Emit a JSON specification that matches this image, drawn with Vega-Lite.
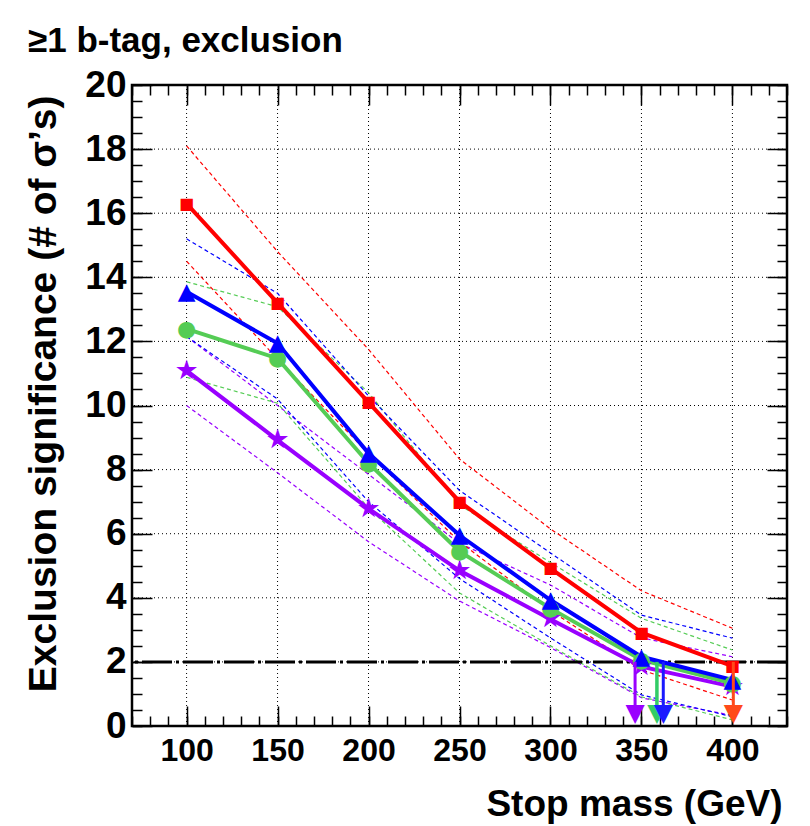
{
  "$schema": "https://vega.github.io/schema/vega-lite/v6.json",
  "width": 655,
  "height": 641,
  "autosize": {"type": "none"},
  "padding": {"left": 132, "top": 85, "right": 23, "bottom": 100},
  "background": "white",
  "config": {
    "view": {"stroke": "black", "strokeWidth": 2.5},
    "font": "Liberation Sans"
  },
  "title": {
    "text": "≥1 b-tag, exclusion",
    "anchor": "start",
    "frame": "group",
    "dx": -104,
    "dy": 45,
    "offset": 24,
    "baseline": "alphabetic",
    "font": "Liberation Sans",
    "fontSize": 35,
    "fontWeight": "bold",
    "color": "black"
  },
  "datasets": {
    "curves": [
      {"series": "purple", "kind": "central", "mass": 100, "sig": 11.09},
      {"series": "purple", "kind": "central", "mass": 150, "sig": 8.92},
      {"series": "purple", "kind": "central", "mass": 200, "sig": 6.78},
      {"series": "purple", "kind": "central", "mass": 250, "sig": 4.85},
      {"series": "purple", "kind": "central", "mass": 300, "sig": 3.33},
      {"series": "purple", "kind": "central", "mass": 350, "sig": 1.85},
      {"series": "purple", "kind": "central", "mass": 400, "sig": 1.23},
      {"series": "green", "kind": "central", "mass": 100, "sig": 12.39},
      {"series": "green", "kind": "central", "mass": 150, "sig": 11.47},
      {"series": "green", "kind": "central", "mass": 200, "sig": 8.2},
      {"series": "green", "kind": "central", "mass": 250, "sig": 5.45},
      {"series": "green", "kind": "central", "mass": 300, "sig": 3.67},
      {"series": "green", "kind": "central", "mass": 350, "sig": 2.06},
      {"series": "green", "kind": "central", "mass": 400, "sig": 1.33},
      {"series": "blue", "kind": "central", "mass": 100, "sig": 13.55},
      {"series": "blue", "kind": "central", "mass": 150, "sig": 11.94},
      {"series": "blue", "kind": "central", "mass": 200, "sig": 8.51},
      {"series": "blue", "kind": "central", "mass": 250, "sig": 5.95},
      {"series": "blue", "kind": "central", "mass": 300, "sig": 3.93},
      {"series": "blue", "kind": "central", "mass": 350, "sig": 2.16},
      {"series": "blue", "kind": "central", "mass": 400, "sig": 1.44},
      {"series": "red", "kind": "central", "mass": 100, "sig": 16.3},
      {"series": "red", "kind": "central", "mass": 150, "sig": 13.2},
      {"series": "red", "kind": "central", "mass": 200, "sig": 10.1},
      {"series": "red", "kind": "central", "mass": 250, "sig": 7.0},
      {"series": "red", "kind": "central", "mass": 300, "sig": 4.92},
      {"series": "red", "kind": "central", "mass": 350, "sig": 2.91},
      {"series": "red", "kind": "central", "mass": 400, "sig": 1.87},
      {"series": "red", "kind": "upper", "mass": 100, "sig": 18.1},
      {"series": "red", "kind": "upper", "mass": 150, "sig": 14.8},
      {"series": "red", "kind": "upper", "mass": 200, "sig": 11.75},
      {"series": "red", "kind": "upper", "mass": 250, "sig": 8.33},
      {"series": "red", "kind": "upper", "mass": 300, "sig": 6.15},
      {"series": "red", "kind": "upper", "mass": 350, "sig": 4.22},
      {"series": "red", "kind": "upper", "mass": 400, "sig": 3.05},
      {"series": "red", "kind": "lower", "mass": 100, "sig": 14.5},
      {"series": "red", "kind": "lower", "mass": 150, "sig": 11.45},
      {"series": "red", "kind": "lower", "mass": 200, "sig": 8.5},
      {"series": "red", "kind": "lower", "mass": 250, "sig": 5.75},
      {"series": "red", "kind": "lower", "mass": 300, "sig": 3.6},
      {"series": "red", "kind": "lower", "mass": 350, "sig": 1.75},
      {"series": "red", "kind": "lower", "mass": 400, "sig": 0.81},
      {"series": "blue", "kind": "upper", "mass": 100, "sig": 15.2},
      {"series": "blue", "kind": "upper", "mass": 150, "sig": 13.5},
      {"series": "blue", "kind": "upper", "mass": 200, "sig": 10.3},
      {"series": "blue", "kind": "upper", "mass": 250, "sig": 7.35},
      {"series": "blue", "kind": "upper", "mass": 300, "sig": 5.4},
      {"series": "blue", "kind": "upper", "mass": 350, "sig": 3.46},
      {"series": "blue", "kind": "upper", "mass": 400, "sig": 2.74},
      {"series": "blue", "kind": "lower", "mass": 100, "sig": 12.15},
      {"series": "blue", "kind": "lower", "mass": 150, "sig": 10.2},
      {"series": "blue", "kind": "lower", "mass": 200, "sig": 7.0},
      {"series": "blue", "kind": "lower", "mass": 250, "sig": 4.6},
      {"series": "blue", "kind": "lower", "mass": 300, "sig": 2.75},
      {"series": "blue", "kind": "lower", "mass": 350, "sig": 0.97},
      {"series": "blue", "kind": "lower", "mass": 400, "sig": 0.29},
      {"series": "green", "kind": "upper", "mass": 100, "sig": 13.86},
      {"series": "green", "kind": "upper", "mass": 150, "sig": 13.08},
      {"series": "green", "kind": "upper", "mass": 200, "sig": 10.4},
      {"series": "green", "kind": "upper", "mass": 250, "sig": 6.9},
      {"series": "green", "kind": "upper", "mass": 300, "sig": 5.1},
      {"series": "green", "kind": "upper", "mass": 350, "sig": 3.36},
      {"series": "green", "kind": "upper", "mass": 400, "sig": 2.37},
      {"series": "green", "kind": "lower", "mass": 100, "sig": 10.88},
      {"series": "green", "kind": "lower", "mass": 150, "sig": 10.07},
      {"series": "green", "kind": "lower", "mass": 200, "sig": 6.8},
      {"series": "green", "kind": "lower", "mass": 250, "sig": 4.15},
      {"series": "green", "kind": "lower", "mass": 300, "sig": 2.5},
      {"series": "green", "kind": "lower", "mass": 350, "sig": 0.91},
      {"series": "green", "kind": "lower", "mass": 400, "sig": 0.19},
      {"series": "purple", "kind": "upper", "mass": 100, "sig": 12.15},
      {"series": "purple", "kind": "upper", "mass": 150, "sig": 10.0},
      {"series": "purple", "kind": "upper", "mass": 200, "sig": 7.85},
      {"series": "purple", "kind": "upper", "mass": 250, "sig": 5.7},
      {"series": "purple", "kind": "upper", "mass": 300, "sig": 4.4},
      {"series": "purple", "kind": "upper", "mass": 350, "sig": 2.75},
      {"series": "purple", "kind": "upper", "mass": 400, "sig": 2.16},
      {"series": "purple", "kind": "lower", "mass": 100, "sig": 10.0},
      {"series": "purple", "kind": "lower", "mass": 150, "sig": 7.9},
      {"series": "purple", "kind": "lower", "mass": 200, "sig": 5.75},
      {"series": "purple", "kind": "lower", "mass": 250, "sig": 3.9},
      {"series": "purple", "kind": "lower", "mass": 300, "sig": 2.45},
      {"series": "purple", "kind": "lower", "mass": 350, "sig": 0.88},
      {"series": "purple", "kind": "lower", "mass": 400, "sig": 0.33}
    ],
    "limits": [
      {"series": "purple", "mass": 346.5, "sig": 2},
      {"series": "green", "mass": 358.5, "sig": 2},
      {"series": "blue", "mass": 362, "sig": 2},
      {"series": "red", "mass": 400.5, "sig": 2}
    ],
    "threshold": [{"sig": 2}],
    "gridx": [{"mass": 100}, {"mass": 150}, {"mass": 200}, {"mass": 250}, {"mass": 300}, {"mass": 350}, {"mass": 400}],
    "gridy": [{"sig": 2}, {"sig": 4}, {"sig": 6}, {"sig": 8}, {"sig": 10}, {"sig": 12}, {"sig": 14}, {"sig": 16}, {"sig": 18}]
  },
  "layer": [
    {
      "data": {"name": "gridx"},
      "mark": {"type": "rule", "color": "black", "strokeWidth": 1, "strokeDash": [1, 3]},
      "encoding": {
        "x": {"field": "mass", "type": "quantitative", "axis": null}
      }
    },
    {
      "data": {"name": "gridy"},
      "mark": {"type": "rule", "color": "black", "strokeWidth": 1, "strokeDash": [1, 3]},
      "encoding": {
        "y": {"field": "sig", "type": "quantitative", "axis": null}
      }
    },
    {
      "data": {"name": "curves"},
      "transform": [{"filter": "datum.series === 'purple' && datum.kind === 'upper'"}],
      "mark": {"type": "line", "color": "#9900ff", "strokeWidth": 1.2, "strokeDash": [4, 3]},
      "encoding": {
        "x": {
          "field": "mass", "type": "quantitative",
          "scale": {"domain": [70, 430], "nice": false, "zero": false},
          "axis": {
            "orient": "bottom",
            "values": [100, 150, 200, 250, 300, 350, 400],
            "format": "d",
            "domain": false,
            "grid": false,
            "tickColor": "black", "tickWidth": 1.5, "tickSize": -20,
            "labelFont": "Liberation Sans", "labelFontSize": 32, "labelFontWeight": "bold", "labelColor": "black",
            "labelPadding": 29, "labelOverlap": false, "labelFlush": false,
            "title": "Stop mass (GeV)",
            "titleFont": "Liberation Sans", "titleFontSize": 37, "titleFontWeight": "bold", "titleColor": "black",
            "titleX": 650, "titleY": 89, "titleAlign": "right", "titleBaseline": "alphabetic"
          }
        },
        "y": {
          "field": "sig", "type": "quantitative",
          "scale": {"domain": [0, 20], "nice": false, "zero": false},
          "axis": {
            "orient": "left",
            "values": [0, 2, 4, 6, 8, 10, 12, 14, 16, 18, 20],
            "format": "d",
            "domain": false,
            "grid": false,
            "tickColor": "black", "tickWidth": 1.5, "tickSize": -20,
            "labelFont": "Liberation Sans", "labelFontSize": 37, "labelFontWeight": "bold", "labelColor": "black",
            "labelPadding": 26, "labelBaseline": "middle", "labelOverlap": false, "labelFlush": false,
            "title": "Exclusion significance  (# of σ’s)",
            "titleFont": "Liberation Sans", "titleFontSize": 39, "titleFontWeight": "bold", "titleColor": "black",
            "titleAngle": -90, "titleX": -77, "titleY": 10, "titleAlign": "right", "titleBaseline": "alphabetic"
          }
        }
      }
    },
    {
      "data": {"name": "curves"},
      "transform": [{"filter": "datum.series === 'purple' && datum.kind === 'lower'"}],
      "mark": {"type": "line", "color": "#9900ff", "strokeWidth": 1.2, "strokeDash": [4, 3]},
      "encoding": {
        "x": {
          "field": "mass", "type": "quantitative",
          "axis": {
            "orient": "bottom",
            "values": [70, 80, 90, 100, 110, 120, 130, 140, 150, 160, 170, 180, 190, 200, 210, 220, 230, 240, 250, 260, 270, 280, 290, 300, 310, 320, 330, 340, 350, 360, 370, 380, 390, 400, 410, 420, 430],
            "domain": false, "grid": false, "labels": false, "title": null,
            "tickColor": "black", "tickWidth": 1.5, "tickSize": -10
          }
        },
        "y": {
          "field": "sig", "type": "quantitative",
          "axis": {
            "orient": "left",
            "values": [0, 0.5, 1, 1.5, 2, 2.5, 3, 3.5, 4, 4.5, 5, 5.5, 6, 6.5, 7, 7.5, 8, 8.5, 9, 9.5, 10, 10.5, 11, 11.5, 12, 12.5, 13, 13.5, 14, 14.5, 15, 15.5, 16, 16.5, 17, 17.5, 18, 18.5, 19, 19.5, 20],
            "domain": false, "grid": false, "labels": false, "title": null,
            "tickColor": "black", "tickWidth": 1.5, "tickSize": -10
          }
        }
      }
    },
    {
      "data": {"name": "curves"},
      "transform": [{"filter": "datum.series === 'green' && datum.kind === 'upper'"}],
      "mark": {"type": "line", "color": "#55cc55", "strokeWidth": 1.2, "strokeDash": [4, 3]},
      "encoding": {
        "x": {
          "field": "mass", "type": "quantitative",
          "axis": {
            "orient": "top",
            "values": [100, 150, 200, 250, 300, 350, 400],
            "domain": false, "grid": false, "labels": false, "title": null,
            "tickColor": "black", "tickWidth": 1.5, "tickSize": -20
          }
        },
        "y": {
          "field": "sig", "type": "quantitative",
          "axis": {
            "orient": "right",
            "values": [0, 2, 4, 6, 8, 10, 12, 14, 16, 18, 20],
            "domain": false, "grid": false, "labels": false, "title": null,
            "tickColor": "black", "tickWidth": 1.5, "tickSize": -20
          }
        }
      }
    },
    {
      "data": {"name": "curves"},
      "transform": [{"filter": "datum.series === 'green' && datum.kind === 'lower'"}],
      "mark": {"type": "line", "color": "#55cc55", "strokeWidth": 1.2, "strokeDash": [4, 3]},
      "encoding": {
        "x": {
          "field": "mass", "type": "quantitative",
          "axis": {
            "orient": "top",
            "values": [70, 80, 90, 100, 110, 120, 130, 140, 150, 160, 170, 180, 190, 200, 210, 220, 230, 240, 250, 260, 270, 280, 290, 300, 310, 320, 330, 340, 350, 360, 370, 380, 390, 400, 410, 420, 430],
            "domain": false, "grid": false, "labels": false, "title": null,
            "tickColor": "black", "tickWidth": 1.5, "tickSize": -10
          }
        },
        "y": {
          "field": "sig", "type": "quantitative",
          "axis": {
            "orient": "right",
            "values": [0, 0.5, 1, 1.5, 2, 2.5, 3, 3.5, 4, 4.5, 5, 5.5, 6, 6.5, 7, 7.5, 8, 8.5, 9, 9.5, 10, 10.5, 11, 11.5, 12, 12.5, 13, 13.5, 14, 14.5, 15, 15.5, 16, 16.5, 17, 17.5, 18, 18.5, 19, 19.5, 20],
            "domain": false, "grid": false, "labels": false, "title": null,
            "tickColor": "black", "tickWidth": 1.5, "tickSize": -10
          }
        }
      }
    },
    {
      "data": {"name": "curves"},
      "transform": [{"filter": "datum.series === 'blue' && datum.kind === 'upper'"}],
      "mark": {"type": "line", "color": "#0000ff", "strokeWidth": 1.2, "strokeDash": [4, 3]},
      "encoding": {
        "x": {"field": "mass", "type": "quantitative", "axis": null},
        "y": {"field": "sig", "type": "quantitative", "axis": null}
      }
    },
    {
      "data": {"name": "curves"},
      "transform": [{"filter": "datum.series === 'blue' && datum.kind === 'lower'"}],
      "mark": {"type": "line", "color": "#0000ff", "strokeWidth": 1.2, "strokeDash": [4, 3]},
      "encoding": {
        "x": {"field": "mass", "type": "quantitative", "axis": null},
        "y": {"field": "sig", "type": "quantitative", "axis": null}
      }
    },
    {
      "data": {"name": "curves"},
      "transform": [{"filter": "datum.series === 'red' && datum.kind === 'upper'"}],
      "mark": {"type": "line", "color": "#ff0000", "strokeWidth": 1.2, "strokeDash": [4, 3]},
      "encoding": {
        "x": {"field": "mass", "type": "quantitative", "axis": null},
        "y": {"field": "sig", "type": "quantitative", "axis": null}
      }
    },
    {
      "data": {"name": "curves"},
      "transform": [{"filter": "datum.series === 'red' && datum.kind === 'lower'"}],
      "mark": {"type": "line", "color": "#ff0000", "strokeWidth": 1.2, "strokeDash": [4, 3]},
      "encoding": {
        "x": {"field": "mass", "type": "quantitative", "axis": null},
        "y": {"field": "sig", "type": "quantitative", "axis": null}
      }
    },
    {
      "data": {"name": "threshold"},
      "mark": {"type": "rule", "color": "black", "strokeWidth": 3, "strokeDash": [30, 4, 3, 4]},
      "encoding": {
        "y": {"field": "sig", "type": "quantitative", "axis": null}
      }
    },
    {
      "data": {"name": "curves"},
      "transform": [{"filter": "datum.series === 'purple' && datum.kind === 'central'"}],
      "mark": {"type": "line", "color": "#9900ff", "strokeWidth": 4},
      "encoding": {
        "x": {"field": "mass", "type": "quantitative", "axis": null},
        "y": {"field": "sig", "type": "quantitative", "axis": null}
      }
    },
    {
      "data": {"name": "curves"},
      "transform": [{"filter": "datum.series === 'green' && datum.kind === 'central'"}],
      "mark": {"type": "line", "color": "#55cc55", "strokeWidth": 4},
      "encoding": {
        "x": {"field": "mass", "type": "quantitative", "axis": null},
        "y": {"field": "sig", "type": "quantitative", "axis": null}
      }
    },
    {
      "data": {"name": "curves"},
      "transform": [{"filter": "datum.series === 'blue' && datum.kind === 'central'"}],
      "mark": {"type": "line", "color": "#0000ff", "strokeWidth": 4},
      "encoding": {
        "x": {"field": "mass", "type": "quantitative", "axis": null},
        "y": {"field": "sig", "type": "quantitative", "axis": null}
      }
    },
    {
      "data": {"name": "curves"},
      "transform": [{"filter": "datum.series === 'red' && datum.kind === 'central'"}],
      "mark": {"type": "line", "color": "#ff0000", "strokeWidth": 4},
      "encoding": {
        "x": {"field": "mass", "type": "quantitative", "axis": null},
        "y": {"field": "sig", "type": "quantitative", "axis": null}
      }
    },
    {
      "data": {"name": "curves"},
      "transform": [{"filter": "datum.series === 'purple' && datum.kind === 'central'"}],
      "mark": {"type": "text", "text": "★", "font": "DejaVu Sans", "fontSize": 27, "align": "center", "baseline": "middle", "color": "#9900ff"},
      "encoding": {
        "x": {"field": "mass", "type": "quantitative", "axis": null},
        "y": {"field": "sig", "type": "quantitative", "axis": null}
      }
    },
    {
      "data": {"name": "curves"},
      "transform": [{"filter": "datum.series === 'green' && datum.kind === 'central'"}],
      "mark": {"type": "text", "text": "●", "font": "DejaVu Sans", "fontSize": 22, "align": "center", "baseline": "middle", "color": "#55cc55"},
      "encoding": {
        "x": {"field": "mass", "type": "quantitative", "axis": null},
        "y": {"field": "sig", "type": "quantitative", "axis": null}
      }
    },
    {
      "data": {"name": "curves"},
      "transform": [{"filter": "datum.series === 'blue' && datum.kind === 'central'"}],
      "mark": {"type": "text", "text": "▲", "font": "DejaVu Sans", "fontSize": 23, "align": "center", "baseline": "middle", "color": "#0000ff"},
      "encoding": {
        "x": {"field": "mass", "type": "quantitative", "axis": null},
        "y": {"field": "sig", "type": "quantitative", "axis": null}
      }
    },
    {
      "data": {"name": "curves"},
      "transform": [{"filter": "datum.series === 'red' && datum.kind === 'central'"}],
      "mark": {"type": "text", "text": "■", "font": "DejaVu Sans", "fontSize": 16, "align": "center", "baseline": "middle", "color": "#ff0000"},
      "encoding": {
        "x": {"field": "mass", "type": "quantitative", "axis": null},
        "y": {"field": "sig", "type": "quantitative", "axis": null}
      }
    },
    {
      "data": {"name": "limits"},
      "transform": [{"filter": "datum.series === 'purple'"}],
      "mark": {"type": "rule", "color": "#9900ff", "strokeWidth": 3},
      "encoding": {
        "x": {"field": "mass", "type": "quantitative", "axis": null},
        "y": {"field": "sig", "type": "quantitative", "axis": null},
        "y2": {"datum": 0.4}
      }
    },
    {
      "data": {"name": "limits"},
      "transform": [{"filter": "datum.series === 'green'"}],
      "mark": {"type": "rule", "color": "#33cc66", "strokeWidth": 3.5},
      "encoding": {
        "x": {"field": "mass", "type": "quantitative", "axis": null},
        "y": {"field": "sig", "type": "quantitative", "axis": null},
        "y2": {"datum": 0.4}
      }
    },
    {
      "data": {"name": "limits"},
      "transform": [{"filter": "datum.series === 'blue'"}],
      "mark": {"type": "rule", "color": "#1a1aff", "strokeWidth": 3},
      "encoding": {
        "x": {"field": "mass", "type": "quantitative", "axis": null},
        "y": {"field": "sig", "type": "quantitative", "axis": null},
        "y2": {"datum": 0.4}
      }
    },
    {
      "data": {"name": "limits"},
      "transform": [{"filter": "datum.series === 'red'"}],
      "mark": {"type": "rule", "color": "#ff4a1a", "strokeWidth": 3},
      "encoding": {
        "x": {"field": "mass", "type": "quantitative", "axis": null},
        "y": {"field": "sig", "type": "quantitative", "axis": null},
        "y2": {"datum": 0.4}
      }
    },
    {
      "data": {"name": "limits"},
      "transform": [{"filter": "datum.series === 'purple'"}],
      "mark": {"type": "text", "text": "▼", "font": "DejaVu Sans", "fontSize": 25, "align": "center", "baseline": "middle", "color": "#9900ff"},
      "encoding": {
        "x": {"field": "mass", "type": "quantitative", "axis": null},
        "y": {"datum": 0.42, "type": "quantitative", "axis": null}
      }
    },
    {
      "data": {"name": "limits"},
      "transform": [{"filter": "datum.series === 'green'"}],
      "mark": {"type": "text", "text": "▼", "font": "DejaVu Sans", "fontSize": 25, "align": "center", "baseline": "middle", "color": "#33cc66"},
      "encoding": {
        "x": {"field": "mass", "type": "quantitative", "axis": null},
        "y": {"datum": 0.42, "type": "quantitative", "axis": null}
      }
    },
    {
      "data": {"name": "limits"},
      "transform": [{"filter": "datum.series === 'blue'"}],
      "mark": {"type": "text", "text": "▼", "font": "DejaVu Sans", "fontSize": 25, "align": "center", "baseline": "middle", "color": "#1a1aff"},
      "encoding": {
        "x": {"field": "mass", "type": "quantitative", "axis": null},
        "y": {"datum": 0.42, "type": "quantitative", "axis": null}
      }
    },
    {
      "data": {"name": "limits"},
      "transform": [{"filter": "datum.series === 'red'"}],
      "mark": {"type": "text", "text": "▼", "font": "DejaVu Sans", "fontSize": 25, "align": "center", "baseline": "middle", "color": "#ff4a1a"},
      "encoding": {
        "x": {"field": "mass", "type": "quantitative", "axis": null},
        "y": {"datum": 0.42, "type": "quantitative", "axis": null}
      }
    }
  ],
  "resolve": {"axis": {"x": "independent", "y": "independent"}}
}
